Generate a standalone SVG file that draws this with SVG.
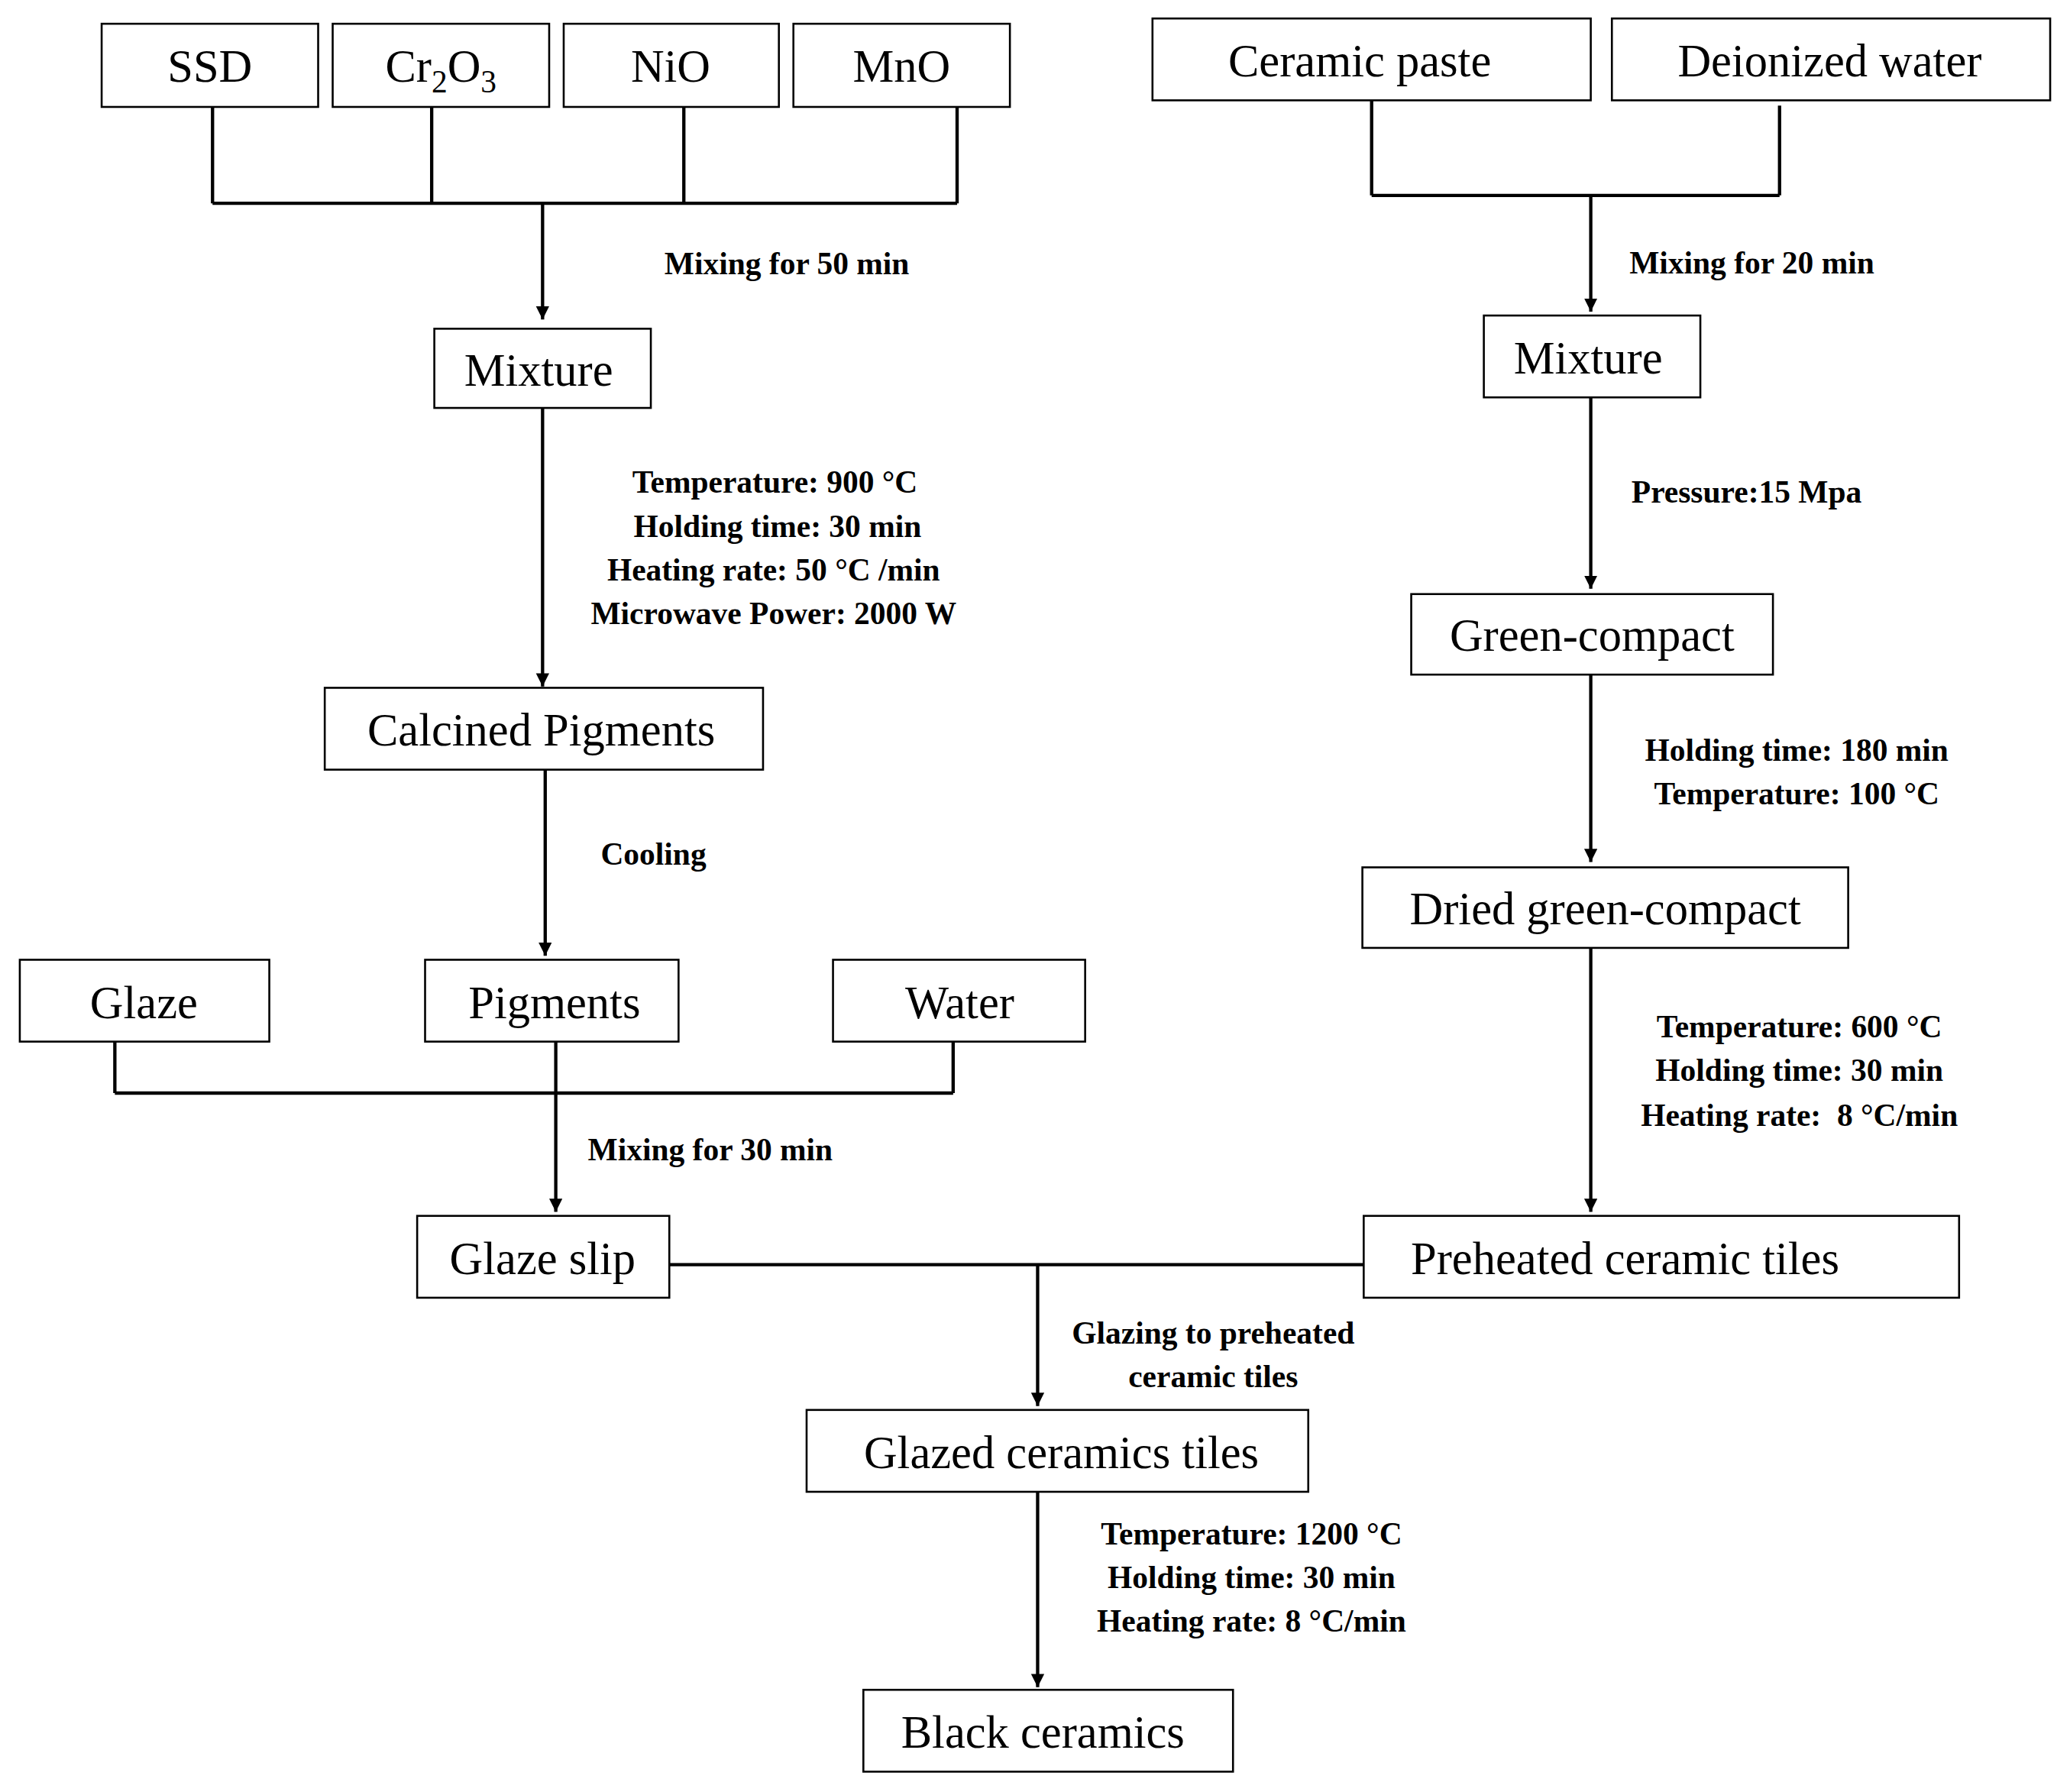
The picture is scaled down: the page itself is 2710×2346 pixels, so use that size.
<svg xmlns="http://www.w3.org/2000/svg" width="2710" height="2346" viewBox="0 0 2710 2346">
<style>
.b{fill:#fff;stroke:#000;stroke-width:1.5}
.t{font-family:"Liberation Serif",serif;font-size:35px;text-anchor:middle;fill:#000}
.l{font-family:"Liberation Serif",serif;font-size:24px;font-weight:bold;text-anchor:middle;fill:#000}
.c{fill:none;stroke:#000;stroke-width:2.5}
</style>
<defs><marker id="a" markerWidth="12" markerHeight="12" refX="10" refY="5" orient="auto" markerUnits="userSpaceOnUse"><path d="M0,0L10,5L0,10z" fill="#000"/></marker></defs>
<rect width="2710" height="2346" fill="#fff"/>
<g transform="scale(1.7283)">
<g id="connectors" class="c">
<path d="M161,81V154M327,81V154M518,81V154M725,81V154M161,154H725"/>
<path d="M411,154V242" marker-end="url(#a)"/>
<path d="M411,309V520" marker-end="url(#a)"/>
<path d="M413,583V724" marker-end="url(#a)"/>
<path d="M87,789V828M722,789V828M87,828H722"/>
<path d="M421,789V918" marker-end="url(#a)"/>
<path d="M507,958H1033"/>
<path d="M786,958V1065" marker-end="url(#a)"/>
<path d="M786,1130V1278" marker-end="url(#a)"/>
<path d="M1039,76V148M1348,80V148M1039,148H1348"/>
<path d="M1205,148V236" marker-end="url(#a)"/>
<path d="M1205,301V446" marker-end="url(#a)"/>
<path d="M1205,511V653" marker-end="url(#a)"/>
<path d="M1205,718V918" marker-end="url(#a)"/>
</g>
<g id="ssd"><rect class="b" x="77" y="18" width="164" height="63"/><text class="t" x="159" y="62">SSD</text></g>
<g id="cr2o3"><rect class="b" x="252" y="18" width="164" height="63"/><text class="t" x="334" y="62">Cr<tspan font-size="24" dy="8">2</tspan><tspan dy="-8">O</tspan><tspan font-size="24" dy="8">3</tspan></text></g>
<g id="nio"><rect class="b" x="427" y="18" width="163" height="63"/><text class="t" x="508" y="62">NiO</text></g>
<g id="mno"><rect class="b" x="601" y="18" width="164" height="63"/><text class="t" x="683" y="62">MnO</text></g>
<g id="mixture1"><rect class="b" x="329" y="249" width="164" height="60"/><text class="t" x="408" y="292">Mixture</text></g>
<g id="calcined"><rect class="b" x="246" y="521" width="332" height="62"/><text class="t" x="410" y="565">Calcined Pigments</text></g>
<g id="glaze"><rect class="b" x="15" y="727" width="189" height="62"/><text class="t" x="109" y="771">Glaze</text></g>
<g id="pigments"><rect class="b" x="322" y="727" width="192" height="62"/><text class="t" x="420" y="771">Pigments</text></g>
<g id="water"><rect class="b" x="631" y="727" width="191" height="62"/><text class="t" x="727" y="771">Water</text></g>
<g id="glazeslip"><rect class="b" x="316" y="921" width="191" height="62"/><text class="t" x="411" y="965">Glaze slip</text></g>
<g id="glazed"><rect class="b" x="611" y="1068" width="380" height="62"/><text class="t" x="804" y="1112">Glazed ceramics tiles</text></g>
<g id="black"><rect class="b" x="654" y="1280" width="280" height="62"/><text class="t" x="790" y="1324">Black ceramics</text></g>
<g id="paste"><rect class="b" x="873" y="14" width="332" height="62"/><text class="t" x="1030" y="58">Ceramic paste</text></g>
<g id="deion"><rect class="b" x="1221" y="14" width="332" height="62"/><text class="t" x="1386" y="58">Deionized water</text></g>
<g id="mixture2"><rect class="b" x="1124" y="239" width="164" height="62"/><text class="t" x="1203" y="283">Mixture</text></g>
<g id="green"><rect class="b" x="1069" y="450" width="274" height="61"/><text class="t" x="1206" y="493">Green-compact</text></g>
<g id="dried"><rect class="b" x="1032" y="657" width="368" height="61"/><text class="t" x="1216" y="700">Dried green-compact</text></g>
<g id="preheated"><rect class="b" x="1033" y="921" width="451" height="62"/><text class="t" x="1231" y="965">Preheated ceramic tiles</text></g>
<g id="labels">
<text class="l" x="596" y="208">Mixing for 50 min</text>
<text class="l" x="587" y="373">Temperature: 900 °C</text>
<text class="l" x="589" y="407">Holding time: 30 min</text>
<text class="l" x="586" y="440">Heating rate: 50 °C /min</text>
<text class="l" x="586" y="473">Microwave Power: 2000 W</text>
<text class="l" x="495" y="655">Cooling</text>
<text class="l" x="538" y="879">Mixing for 30 min</text>
<text class="l" x="919" y="1018">Glazing to preheated</text>
<text class="l" x="919" y="1051">ceramic tiles</text>
<text class="l" x="948" y="1170">Temperature: 1200 °C</text>
<text class="l" x="948" y="1203">Holding time: 30 min</text>
<text class="l" x="948" y="1236">Heating rate:  8 °C/min</text>
<text class="l" x="1327" y="207">Mixing for 20 min</text>
<text class="l" x="1323" y="381">Pressure:15 Mpa</text>
<text class="l" x="1361" y="576">Holding time: 180 min</text>
<text class="l" x="1361" y="609">Temperature: 100 °C</text>
<text class="l" x="1363" y="786">Temperature: 600 °C</text>
<text class="l" x="1363" y="819">Holding time: 30 min</text>
<text class="l" x="1363" y="853" xml:space="preserve">Heating rate:  8 °C/min</text>
</g>
</g>
</svg>
